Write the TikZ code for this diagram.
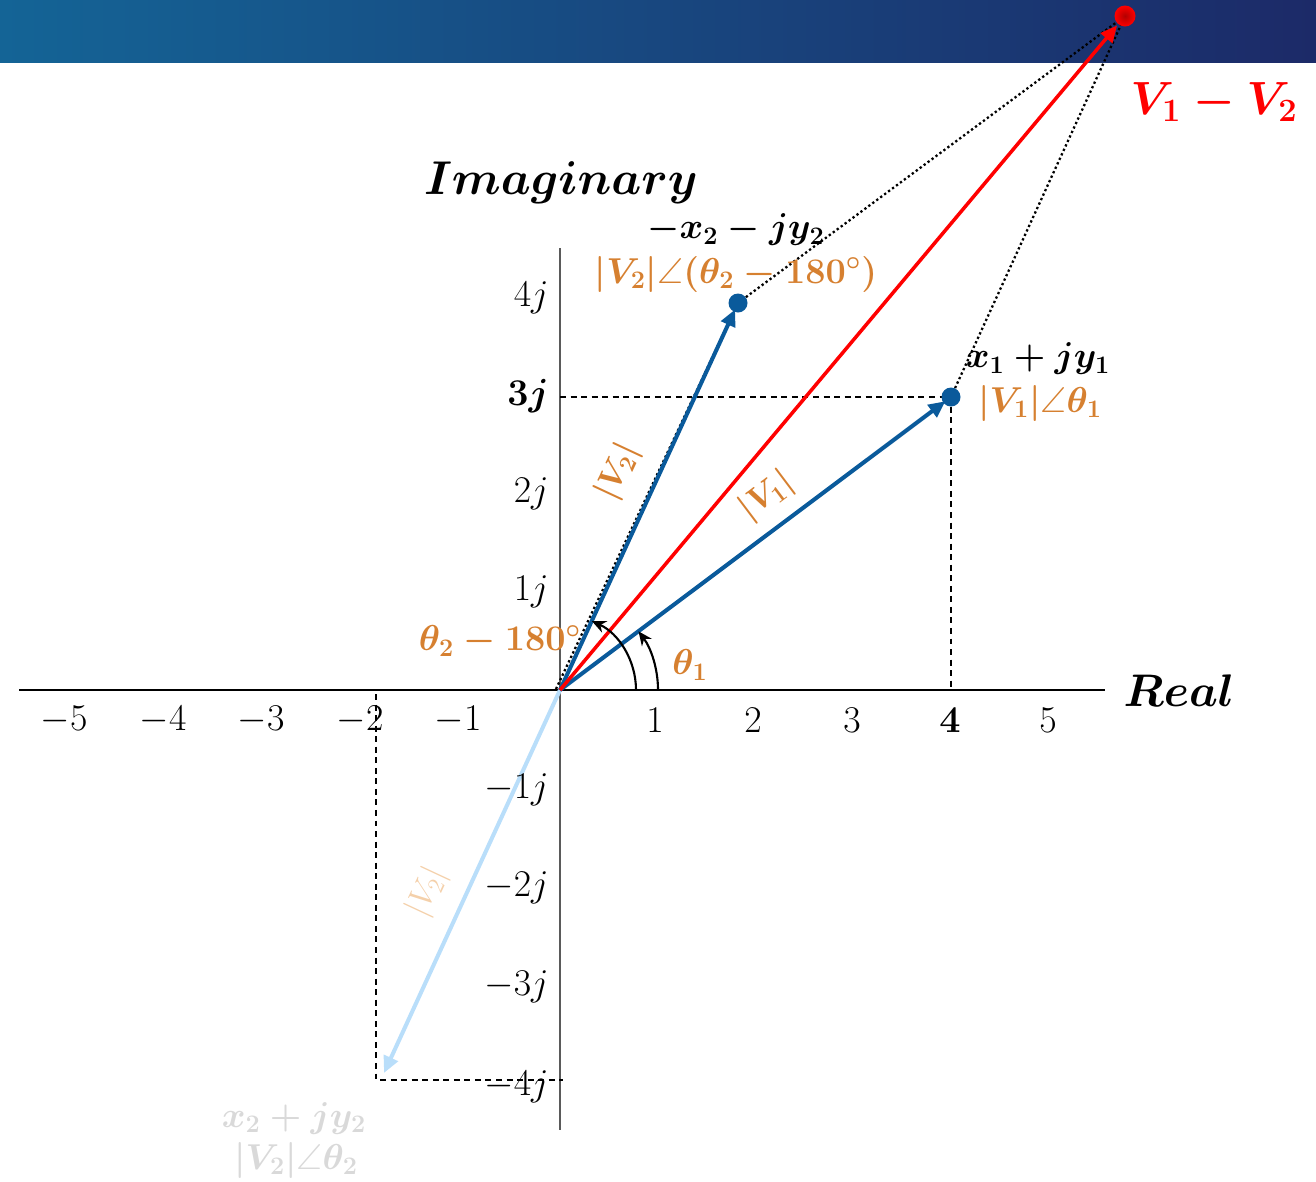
\RequirePackage{fix-cm}
\documentclass[tikz,border=0pt]{standalone}
\usepackage{amsmath,amssymb}
\usetikzlibrary{arrows.meta,shadings}
\definecolor{vblue}{RGB}{10,90,155}
\definecolor{lblue}{RGB}{185,222,250}
\definecolor{vorange}{RGB}{214,128,48}
\definecolor{lorange}{RGB}{244,208,170}
\definecolor{lgray}{RGB}{217,217,217}
\definecolor{bannerL}{RGB}{20,100,150}
\definecolor{bannerR}{RGB}{28,42,104}
\definecolor{axgray}{RGB}{90,90,90}
\definecolor{vred}{RGB}{255,0,0}
\tikzset{
  axisline/.style={line width=1.1pt},
  dsh/.style={line width=0.8pt, dash pattern=on 3.4pt off 2.6pt},
  dotl/.style={line width=1.3pt, dash pattern=on 1.3pt off 1.5pt},
  vec/.style={line width=2.3pt, -{Triangle[length=9.5pt,width=8.5pt]}},
  arcarrow/.style={line width=1.2pt, -{Stealth[length=8pt,width=7pt]}},
  tick/.style={inner sep=0pt, font=\fontsize{21.5pt}{23pt}\selectfont},
  ticb/.style={inner sep=0pt, font=\fontsize{21.5pt}{23pt}\selectfont\boldmath},
  big/.style={inner sep=0pt, font=\fontsize{27pt}{30pt}\selectfont\boldmath},
  mlbl/.style={inner sep=0pt, font=\fontsize{20.5pt}{22pt}\selectfont\boldmath},
  vlbl/.style={inner sep=0pt, font=\fontsize{19pt}{21pt}\selectfont\boldmath},
  dotnode/.style={circle, inner sep=0pt, minimum size=0.38cm}
}
\begin{document}
\begin{tikzpicture}[x=0.02cm,y=-0.02cm]
\useasboundingbox (0,0) rectangle (1316,1181);
\shade[left color=bannerL,right color=bannerR] (0,0) rectangle (1316,62);

% key points
\coordinate (O) at (560,690);
\coordinate (Od) at (556,689);
\coordinate (P1) at (951,397);
\coordinate (P2) at (738,303);
\coordinate (P3) at (1125,16);
\coordinate (Q) at (376,1080);
\coordinate (T2) at (384,1073);

% axes
\coordinate (xl) at (19,690);
\coordinate (xr) at (1105,690);
\coordinate (yt) at (560,248);
\coordinate (yb) at (560,1130);
\draw[axisline] (xl) -- (xr);
\draw[axisline, axgray] (yt) -- (yb);

% dashed guides
\coordinate (d3) at (560,397);
\coordinate (d4) at (951,690);
\coordinate (e1) at (376,694);
\coordinate (e3) at (563,1080);
\draw[dsh] (d3) -- (P1) -- (d4);
\draw[dsh] (e1) -- (Q) -- (e3);

% dotted parallelogram sides
\draw[dotl] (P2) -- (P3);
\draw[dotl] (P1) -- (P3);
\draw[dotl] (Od) -- (P2);

% vectors
\draw[vec, lblue] (O) -- (T2);
\draw[vec, vblue, shorten >=4pt] (O) -- (P1);
\draw[vec, vblue, shorten >=4pt] (O) -- (P2);
\draw[vec, vred, line width=2pt, shorten >=7pt] (O) -- (P3);

% dots
\node[dotnode, fill=vblue] (dP1) at (P1) {};
\node[dotnode, fill=vblue] (dP2) at (P2) {};
\node[dotnode, minimum size=0.42cm, inner color=red!70!black, outer color=vred] (dP3) at (P3) {};

% angle arcs
\coordinate (a1) at (658,690);
\coordinate (a2) at (636,690);
\draw[arcarrow] (a1) arc[start angle=0, end angle=36.8, radius=1.96cm];
\draw[arcarrow] (a2) arc[start angle=0, end angle=65.3, radius=1.52cm];

% x tick labels
\node[tick] (xm5) at (64,720) {$-5$};
\node[tick] (xm4) at (163,720) {$-4$};
\node[tick] (xm3) at (261,720) {$-3$};
\node[tick] (xm2) at (360,720) {$-2$};
\node[tick] (xm1) at (458,720) {$-1$};
\node[tick] (xp1) at (655,720) {$1$};
\node[tick] (xp2) at (753,720) {$2$};
\node[tick] (xp3) at (852,720) {$3$};
\node[ticb] (xp4) at (950,720) {$4$};
\node[tick] (xp5) at (1048,720) {$5$};

% y tick labels
\node[tick, anchor=east] (yp4) at (549,298) {$4j$};
\node[ticb, anchor=east] (yp3) at (549,396) {$3j$};
\node[tick, anchor=east] (yp2) at (549,494) {$2j$};
\node[tick, anchor=east] (yp1) at (549,592) {$1j$};
\node[tick, anchor=east] (ym1) at (549,790) {$-1j$};
\node[tick, anchor=east] (ym2) at (549,888) {$-2j$};
\node[tick, anchor=east] (ym3) at (549,987) {$-3j$};
\node[tick, anchor=east] (ym4) at (549,1087) {$-4j$};

% axis titles
\node[big] (imag) at (561,183) {$Imaginary$};
\node[big, font=\fontsize{26pt}{28pt}\selectfont\boldmath] (real) at (1179,691) {$Real$};

% point labels
\node[big, text=vred, font=\fontsize{26.5pt}{28pt}\selectfont\boldmath] (diff) at (1214,102) {$V_1-V_2$};
\node[mlbl] (p2a) at (736,230) {$-x_2-jy_2$};
\node[mlbl, text=vorange] (p2b) at (736,274) {$|V_2|\angle(\theta_2-180^\circ)$};
\node[mlbl] (p1a) at (1038,359) {$x_1+jy_1$};
\node[mlbl, text=vorange] (p1b) at (1040,403) {$|V_1|\angle\theta_1$};
\node[mlbl, text=vorange] (ang2) at (500,641) {$\theta_2-180^\circ$};
\node[mlbl, text=vorange] (ang1) at (690,665) {$\theta_1$};
\node[mlbl, text=lgray] (q1) at (294,1118) {$x_2+jy_2$};
\node[mlbl, text=lgray] (q2) at (296,1160) {$|V_2|\angle\theta_2$};

% magnitude labels
\node[vlbl, text=vorange, rotate=65] (m2) at (618,472) {$|V_2|$};
\node[vlbl, text=vorange, rotate=37] (m1) at (767,496) {$|V_1|$};
\node[inner sep=0pt, font=\fontsize{19pt}{21pt}\selectfont, text=lorange, rotate=65] (m2f) at (427,892) {$|V_2|$};
\end{tikzpicture}
\end{document}
